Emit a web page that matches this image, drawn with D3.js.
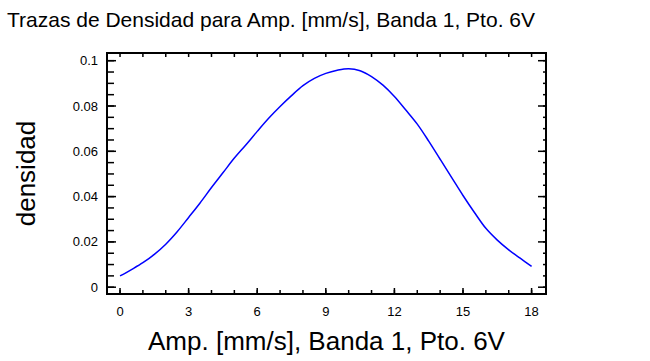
<!DOCTYPE html>
<html><head><meta charset="utf-8">
<script src="https://cdn.jsdelivr.net/npm/d3@7"></script>
<style>body{margin:0;background:#fff}svg{display:block}text{font-family:"Liberation Sans",Arial,sans-serif}</style>
</head><body>
<script>
const titleText = "Trazas de Densidad para Amp. [mm/s], Banda 1, Pto. 6V";
const xTitle = "Amp. [mm/s], Banda 1, Pto. 6V";
const yTitle = "densidad";
const xValues = [0,0.5,1,1.5,2,2.5,3,3.5,4,4.5,5,5.5,6,6.5,7,7.5,8,8.5,9,9.5,10,10.5,11,11.5,12,12.5,13,13.5,14,14.5,15,15.5,16,16.5,17,17.5,18];
const densValues = [0.0050,0.0078,0.0108,0.0145,0.0190,0.0245,0.0308,0.0372,0.0440,0.0505,0.0570,0.0628,0.0688,0.0746,0.0798,0.0846,0.0890,0.0922,0.0944,0.0958,0.0965,0.0956,0.0930,0.0892,0.0842,0.0782,0.0720,0.0645,0.0565,0.0485,0.0405,0.0330,0.0260,0.0208,0.0165,0.0128,0.0092];
const xTicks = [0,3,6,9,12,15,18];
const xTickLabels = ["0","3","6","9","12","15","18"];
const yTicks = [0,0.02,0.04,0.06,0.08,0.1];
const yTickLabels = ["0","0.02","0.04","0.06","0.08","0.1"];
const xMinor = d3.range(0,19,1);
const yMinor = d3.range(0,0.1001,0.005);

const W=650,H=361;
const L=107,R=546,T=53,B=294;
const svg=d3.select("body").append("svg").attr("width",W).attr("height",H);
const x=d3.scaleLinear().domain([-0.57,18.63]).range([L,R]);
const y=d3.scaleLinear().domain([-0.003,0.1034]).range([B,T]);

const g=svg.append("g");
function tk(vals,len,side){
  vals.forEach(v=>{
    let x1,y1,x2,y2;
    if(side==="b"){x1=x2=x(v);y1=B;y2=B-len;}
    if(side==="t"){x1=x2=x(v);y1=T;y2=T+len;}
    if(side==="l"){y1=y2=y(v);x1=L;x2=L+len;}
    if(side==="r"){y1=y2=y(v);x1=R;x2=R-len;}
    g.append("line").attr("x1",x1).attr("x2",x2).attr("y1",y1).attr("y2",y2).attr("stroke","#000").attr("stroke-width",1.5);
  });
}
tk(xMinor,4,"b");tk(xTicks,6,"b");
tk(xMinor,4,"t");
tk(yMinor,7,"l");tk(yTicks,9,"l");
tk(yMinor,3,"r");tk(yTicks,8,"r");

g.append("rect").attr("x",L).attr("y",T).attr("width",R-L).attr("height",B-T).attr("fill","none").attr("stroke","#000").attr("stroke-width",2);

const line=d3.line().x((d,i)=>x(xValues[i])).y(d=>y(d)).curve(d3.curveCatmullRom);
svg.append("path").datum(densValues).attr("d",line).attr("fill","none").attr("stroke","#0000ff").attr("stroke-width",1.5);

svg.selectAll(".xl").data(xTicks).enter().append("text").attr("x",d=>x(d)).attr("y",316).attr("text-anchor","middle").attr("font-size",13).text((d,i)=>xTickLabels[i]);
svg.selectAll(".yl").data(yTicks).enter().append("text").attr("x",98).attr("y",d=>y(d)).attr("dy","0.35em").attr("text-anchor","end").attr("font-size",13).text((d,i)=>yTickLabels[i]);

svg.append("text").attr("x",7).attr("y",27).attr("font-size",21).text(titleText);
svg.append("text").attr("x",(L+R)/2).attr("y",350).attr("text-anchor","middle").attr("font-size",26).text(xTitle);
svg.append("text").attr("transform",`translate(35,${(T+B)/2}) rotate(-90)`).attr("text-anchor","middle").attr("font-size",26).text(yTitle);
</script>
</body></html>
